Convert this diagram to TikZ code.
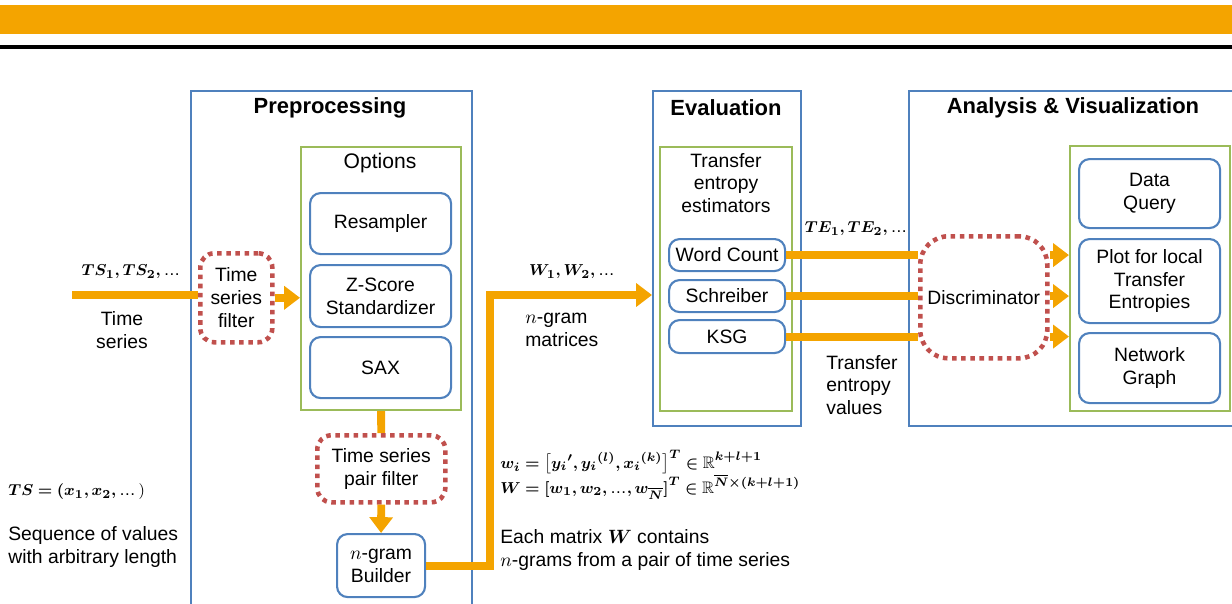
\documentclass[tikz,border=0pt]{standalone}
\usepackage{amsmath,amssymb,bm}
\usepackage{fontspec}
\setmainfont{Liberation Sans}
\usetikzlibrary{arrows.meta}
\definecolor{barorange}{RGB}{244,164,0}
\definecolor{panelblue}{RGB}{79,129,189}
\definecolor{groupgreen}{RGB}{155,187,89}
\definecolor{filterred}{RGB}{192,80,77}
\newcommand\bodytext{\fontsize{11}{13}\selectfont}
\newcommand\headtext{\fontsize{12.5}{15}\selectfont\bfseries}
\newcommand\mathtext{\fontsize{9.5}{12.5}\selectfont}
\def\pxl{0.02cm}

\begin{document}
\begin{tikzpicture}[
    x=\pxl, y=-\pxl,
    panel/.style={
      draw=panelblue, line width=1.2pt, anchor=north west, inner sep=0pt
    },
    group/.style={
      draw=groupgreen, line width=1.2pt, anchor=north west, inner sep=0pt
    },
    block/.style={
      draw=panelblue, line width=1.2pt, rounded corners=6pt,
      anchor=north west, inner sep=0pt, align=center, font=\bodytext
    },
    filter/.style={
      draw=filterred, line width=2.6pt, dash pattern=on 2.6pt off 2.6pt,
      rounded corners=8pt, anchor=north west, inner sep=0pt,
      align=center, font=\bodytext
    },
    heading/.style={font=\headtext},
    txt/.style={font=\bodytext, align=center},
    lefttxt/.style={font=\bodytext, align=left, anchor=west, inner sep=0pt},
    mathlbl/.style={font=\mathtext, inner sep=0pt},
    flow/.style={draw=barorange, line width=4.5pt},
    flowtip/.style={
      flow, -{Triangle[width=13pt,length=9pt]}
    }
  ]
    \useasboundingbox (0,0) rectangle (1232,603);

    % header bars
    \fill[barorange] (0,5) rectangle (1232,34);
    \fill[black] (0,45) rectangle (1232,49);

    % preprocessing
    \node[panel, minimum width=281*\pxl, minimum height=540*\pxl] (PreBox) at (190,90) {};
    \node[heading] (PreTitle) at (330,108) {Preprocessing};
    \node[group, minimum width=160*\pxl, minimum height=263*\pxl] (OptBox) at (300,146) {};
    \node[txt, font=\fontsize{12}{14}\selectfont] (OptTitle) at (380,163) {Options};
    \node[block, minimum width=141*\pxl, minimum height=61*\pxl] (Resampler) at (309,192) {Resampler};
    \node[block, minimum width=141*\pxl, minimum height=62*\pxl] (ZScore) at (309,264) {Z-Score\\Standardizer};
    \node[block, minimum width=141*\pxl, minimum height=61*\pxl] (SAX) at (309,336) {SAX};
    \node[filter, minimum width=72*\pxl, minimum height=89*\pxl] (FilterTS) at (198,251) {Time\\series\\filter};
    \node[filter, minimum width=128*\pxl, minimum height=67*\pxl] (PairFilter) at (315,433) {Time series\\pair filter};
    \node[block, minimum width=88*\pxl, minimum height=63*\pxl] (Builder) at (336,533) {$n$-gram\\Builder};

    % evaluation
    \node[panel, minimum width=148*\pxl, minimum height=335*\pxl] (EvalBox) at (652,90) {};
    \node[heading] (EvalTitle) at (726,108) {Evaluation};
    \node[group, minimum width=132*\pxl, minimum height=264*\pxl] (EstBox) at (659,146) {};
    \node[txt] (EstTitle) at (726,183) {Transfer\\entropy\\estimators};
    \node[block, minimum width=116*\pxl, minimum height=32*\pxl] (WordCount) at (668,238) {Word Count};
    \node[block, minimum width=116*\pxl, minimum height=32*\pxl] (Schreiber) at (668,279) {Schreiber};
    \node[block, minimum width=116*\pxl, minimum height=33*\pxl] (KSG) at (668,319) {KSG};

    % analysis
    \node[panel, minimum width=340*\pxl, minimum height=335*\pxl] (AnaBox) at (908,90) {};
    \node[heading] (AnaTitle) at (1073,108) {Analysis \& Visualization};
    \node[filter, rounded corners=16pt, minimum width=127*\pxl, minimum height=122*\pxl] (Discrim) at (918,234) {Discriminator};
    \node[group, minimum width=160*\pxl, minimum height=265*\pxl] (AnaGroup) at (1069,145) {};
    \node[block, minimum width=141*\pxl, minimum height=69*\pxl] (DataQuery) at (1078,158) {Data\\Query};
    \node[block, minimum width=141*\pxl, minimum height=84*\pxl] (LocalPlot) at (1078,238) {Plot for local\\Transfer\\Entropies};
    \node[block, minimum width=141*\pxl, minimum height=70*\pxl] (NetGraph) at (1078,332) {Network\\Graph};

    % labels
    \node[mathlbl] (TSLabel) at (131,272) {$\bm{TS_1, TS_2,}$\,\ldots};
    \node[txt] (TSName) at (122,330) {Time\\series};
    \node[mathlbl, anchor=west] (TSDef) at (8,492) {$\bm{TS = (x_1, x_2,}$\,\ldots$\,)$};
    \node[lefttxt] (TSNote) at (8,547) {Sequence of values\\with arbitrary length};
    \node[mathlbl] (WLabel) at (572,272) {$\bm{W_1, W_2,}$\,\ldots};
    \node[lefttxt] (WName) at (525,330) {$n$-gram\\matrices};
    \node[mathlbl, anchor=west] (WRow) at (500,462) {$\bm{w_i = \big[{y_i}', {y_i}^{(l)}, {x_i}^{(k)}\big]^T \in \mathbb{R}^{k+l+1}}$};
    \node[mathlbl, anchor=west] (WMat) at (500,487) {$\bm{W = [w_1, w_2,}$\,\ldots$\bm{, w_{\overline{N}}]^T \in \mathbb{R}^{\overline{N}\times(k+l+1)}}$};
    \node[lefttxt] (WNote) at (500,550) {Each matrix $\bm{W}$ contains\\$n$-grams from a pair of time series};
    \node[mathlbl] (TELabel) at (856,229) {$\bm{TE_1, TE_2,}$\,\ldots};
    \node[lefttxt] (TEName) at (826,385) {Transfer\\entropy\\values};

    % data flow
    \coordinate (TSin) at (72,295);
    \coordinate (WBend) at (490,295);
    \draw[flow] (TSin) -- (TSin -| FilterTS.west);
    \draw[flowtip] (FilterTS.east) -- (OptBox.west |- FilterTS.east);
    \draw[flow] (OptBox.south) -- (PairFilter.north);
    \draw[flowtip] (PairFilter.south) -- (Builder.north);
    \draw[flowtip] (Builder.east) -| (WBend) -- (EvalBox.west |- WBend);
    \foreach \est in {WordCount, Schreiber, KSG} {
      \draw[flow] (\est.east) -- (Discrim.west |- \est.east);
      \draw[flowtip] (Discrim.east |- \est.east) -- (AnaGroup.west |- \est.east);
    }
  \end{tikzpicture}
\end{document}
